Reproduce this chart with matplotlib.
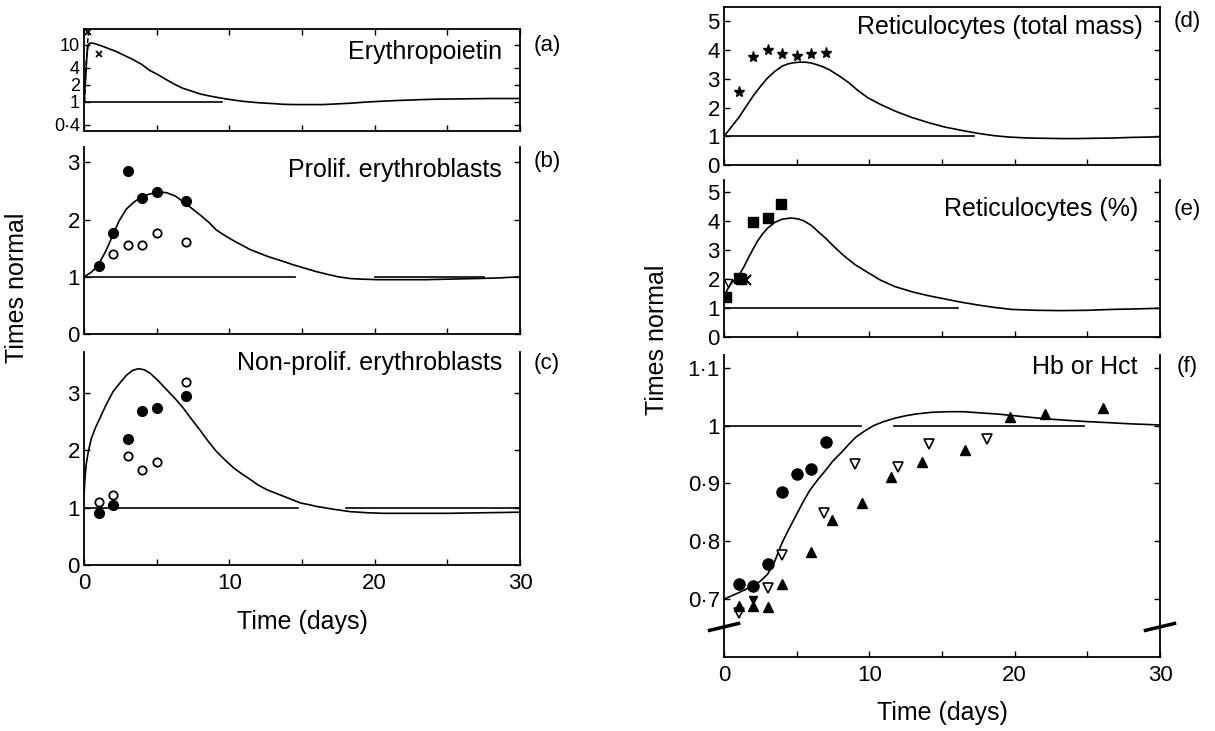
import matplotlib
matplotlib.use("Agg")
import matplotlib.pyplot as plt

plt.rcParams['font.family'] = ['Liberation Sans', 'DejaVu Sans']

# ---- data (days, times normal) ----
# (a) erythropoietin, log axis
epo_t = [0, 0.08, 0.15, 0.22, 0.3, 0.45, 0.7, 1.0, 1.5, 2.25, 2.8, 3.4, 4.0, 4.5,
         5.1, 5.7, 6.3, 6.8, 7.4, 8.0, 8.6, 9.1, 9.7, 10.3, 10.9, 11.4, 12.0, 12.6,
         13.2, 13.7, 14.6, 15.5, 16.4, 17.2, 18.3, 19.5, 20.5, 21.5, 22.4, 23.2,
         24.3, 25.5, 26.8, 28, 29, 30]
epo_v = [1.0, 2.0, 4.0, 7.5, 10.2, 10.8, 10.6, 10.0, 9.0, 7.6, 6.5, 5.5, 4.5, 3.6,
         3.0, 2.43, 2.0, 1.74, 1.55, 1.38, 1.28, 1.21, 1.14, 1.08, 1.03, 1.0, 0.97,
         0.95, 0.93, 0.91, 0.9, 0.9, 0.9, 0.92, 0.95, 1.0, 1.03, 1.06, 1.08, 1.1,
         1.12, 1.13, 1.14, 1.15, 1.15, 1.15]
epo_dash_t = [0.05, 0.15, 0.3]
epo_dash_v = [1.0, 5.0, 16.0]
epo_x_t = [0.3, 1.0]
epo_x_v = [16.5, 6.9]

# (b) proliferating erythroblasts
prolif_t = [0, 0.5, 0.94, 1.5, 1.97, 2.4, 2.9, 3.4, 3.85, 4.4, 4.9, 5.3, 5.7, 6.3,
            6.84, 7.4, 8.0, 8.6, 9.1, 9.7, 10.3, 10.9, 11.4, 12.0, 12.6, 13.2, 13.7,
            14.4, 15.2, 16.0, 16.8, 17.5, 18.3, 19.0, 20.3, 21.7, 23.5, 25.2, 27,
            28.5, 30]
prolif_v = [1.0, 1.08, 1.19, 1.45, 1.72, 1.97, 2.18, 2.3, 2.38, 2.44, 2.47, 2.48,
            2.47, 2.41, 2.31, 2.2, 2.08, 1.95, 1.82, 1.72, 1.63, 1.55, 1.48, 1.42,
            1.36, 1.31, 1.27, 1.21, 1.15, 1.09, 1.04, 1.0, 0.97, 0.96, 0.95, 0.95,
            0.95, 0.96, 0.97, 0.98, 1.0]
prolif_fill_t = [1, 2, 3, 4, 5, 7]
prolif_fill_v = [1.19, 1.76, 2.85, 2.38, 2.49, 2.32]
prolif_open_t = [2, 3, 4, 5, 7]
prolif_open_v = [1.40, 1.56, 1.55, 1.76, 1.61]

# (c) non-proliferating erythroblasts
nonprolif_t = [0, 0.05, 0.15, 0.3, 0.5, 0.8, 1.1, 1.5, 2.0, 2.5, 2.94, 3.35, 3.74,
               4.15, 4.55, 5.1, 5.7, 6.3, 6.84, 7.4, 7.98, 8.5, 9.1, 9.7, 10.3, 10.9,
               11.5, 12.0, 12.6, 13.2, 13.7, 14.3, 14.9, 15.5, 16.0, 17.2, 18.3, 19.5,
               20.6, 22.5, 25, 27.5, 30]
nonprolif_v = [1.2, 1.45, 1.75, 1.98, 2.2, 2.4, 2.56, 2.78, 3.02, 3.18, 3.31, 3.39,
               3.42, 3.4, 3.34, 3.21, 3.05, 2.89, 2.73, 2.54, 2.35, 2.17, 1.98, 1.83,
               1.69, 1.58, 1.48, 1.39, 1.31, 1.25, 1.2, 1.14, 1.08, 1.05, 1.02, 0.97,
               0.93, 0.91, 0.9, 0.9, 0.9, 0.91, 0.92]
nonprolif_fill_t = [1, 2, 3, 4, 5, 7]
nonprolif_fill_v = [0.90, 1.05, 2.2, 2.69, 2.73, 2.95]
nonprolif_open_t = [1, 2, 3, 4, 5, 7]
nonprolif_open_v = [1.09, 1.22, 1.89, 1.66, 1.80, 3.18]

# (d) reticulocytes, total mass
retmass_t = [0, 0.5, 1, 1.5, 2, 2.5, 3, 3.5, 4, 4.4, 4.8, 5.2, 5.6, 6.0, 6.4, 6.8,
             7.2, 7.9, 8.6, 9.2, 9.9, 10.8, 11.8, 12.9, 14.1, 15.2, 16.4, 17.5, 18.6,
             19.7, 20.9, 22, 23.2, 24.3, 25.5, 26.8, 28, 29, 30]
retmass_v = [1.0, 1.32, 1.64, 2.02, 2.40, 2.73, 3.03, 3.26, 3.44, 3.52, 3.56, 3.58,
             3.58, 3.55, 3.49, 3.42, 3.33, 3.11, 2.86, 2.6, 2.34, 2.1, 1.87, 1.66,
             1.47, 1.32, 1.2, 1.1, 1.02, 0.97, 0.94, 0.93, 0.92, 0.92, 0.93, 0.94,
             0.96, 0.97, 0.98]
retmass_pts_t = [1, 2, 3, 4, 5, 6, 7]
retmass_pts_v = [2.55, 3.76, 4.02, 3.88, 3.81, 3.87, 3.91]

# (e) reticulocytes, %
retpct_t = [0, 0.25, 0.5, 0.75, 1.0, 1.35, 1.7, 2.0, 2.3, 2.65, 3.0, 3.5, 4.0, 4.6,
            5.1, 5.5, 6.0, 6.5, 7.0, 7.5, 8.2, 9.0, 9.9, 10.8, 11.8, 13.0, 14.0, 15.0,
            16.2, 17.5, 18.6, 19.8, 21.5, 23.2, 25, 26.7, 28.5, 30]
retpct_v = [1.4, 1.65, 1.85, 1.98, 2.1, 2.4, 2.75, 3.03, 3.3, 3.55, 3.75, 3.95, 4.06,
            4.1, 4.07, 4.0, 3.85, 3.62, 3.4, 3.15, 2.82, 2.5, 2.22, 1.95, 1.73, 1.55,
            1.43, 1.33, 1.21, 1.1, 1.02, 0.95, 0.92, 0.91, 0.92, 0.95, 0.97, 0.99]
retpct_sq_t = [0.15, 1.0, 1.2, 2.0, 3.0, 3.9]
retpct_sq_v = [1.37, 2.03, 2.0, 3.96, 4.09, 4.59]
retpct_x_t = [1.5]
retpct_x_v = [1.98]
retpct_tri_t = [0.3]
retpct_tri_v = [1.85]

# (f) Hb or Hct
hb_t = [0, 1, 2, 2.5, 3, 3.5, 3.95, 4.4, 4.9, 5.4, 5.9, 6.5, 7.0, 7.5, 8.1, 8.6,
        9.07, 9.7, 10.3, 11, 11.8, 12.5, 13.2, 14.3, 15.4, 16.5, 17.6, 18.8, 20,
        21.2, 22.5, 23.7, 24.9, 26.5, 28, 30]
hb_v = [0.70, 0.711, 0.723, 0.731, 0.743, 0.766, 0.795, 0.818, 0.842, 0.866, 0.888,
        0.908, 0.923, 0.939, 0.954, 0.968, 0.98, 0.991, 1.0, 1.007, 1.013, 1.017,
        1.02, 1.023, 1.024, 1.024, 1.022, 1.02, 1.017, 1.014, 1.011, 1.009, 1.007,
        1.005, 1.003, 1.001]
hb_circ_t = [1, 2, 3, 4, 5, 6, 7]
hb_circ_v = [0.727, 0.723, 0.761, 0.885, 0.916, 0.925, 0.971]
hb_down_t = [1, 3, 4, 6.9, 9.0, 12.0, 14.1, 18.1]
hb_down_v = [0.676, 0.72, 0.777, 0.849, 0.934, 0.929, 0.969, 0.976]
hb_downfill_t = [2]
hb_downfill_v = [0.699]
hb_up_t = [1, 2, 3, 4, 6.0, 7.4, 9.5, 11.5, 13.6, 16.6, 19.7, 22.1, 26.1]
hb_up_v = [0.689, 0.689, 0.686, 0.727, 0.781, 0.837, 0.866, 0.911, 0.937, 0.957, 1.014,
           1.02, 1.03]

# reference "normal" segments (start, end) per panel
norm_a = [(0, 9.5)]
norm_b = [(0, 14.5), (20, 27.5)]
norm_c = [(0, 14.7), (18, 30)]
norm_d = [(0, 17.2)]
norm_e = [(0, 16.1)]
norm_f = [(0, 9.4), (11.7, 24.8)]

W, H = 1215, 731
FS = 16      # tick labels
FS_T = 18    # panel names, axis labels
fig = plt.figure(figsize=(W / 100, H / 100), dpi=100)


def px_axes(x0, y0, x1, y1):
    return fig.add_axes([x0 / W, 1 - y1 / H, (x1 - x0) / W, (y1 - y0) / H])


def style(ax, top=False):
    ax.spines['top'].set_visible(top)
    for s in ax.spines.values():
        s.set_linewidth(1.3)
    ax.set_xlim(0, 30)
    ax.set_xticks([0, 10, 20, 30])
    ax.set_xticks([5, 15, 25], minor=True)
    ax.tick_params(which='both', direction='in', length=4, width=1,
                   left=True, right=True, top=top, labelsize=FS, pad=3)
    ax.tick_params(axis='y', which='minor', left=False, right=False)


def norm_lines(ax, segs):
    for a, b in segs:
        ax.plot([a, b], [1, 1], color='black', lw=1.2)


def ftext(x, y, s, ha='left', size=FS_T, **kw):
    fig.text(x / W, 1 - y / H, s, ha=ha, va='center', fontsize=size, **kw)


# ---- left column ----
ax_a = px_axes(84, 29, 520, 131)
style(ax_a, top=True)
ax_a.set_yscale('log')
ax_a.set_ylim(0.31, 19)
ax_a.set_yticks([0.4, 1, 2, 4, 10])
ax_a.set_yticklabels(['0·4', '1', '2', '4', '10'])
ax_a.yaxis.set_minor_locator(matplotlib.ticker.NullLocator())
ax_a.tick_params(axis='y', labelsize=13)
ax_a.plot(epo_t, epo_v, color='black', lw=1.2)
ax_a.plot(epo_dash_t, epo_dash_v, color='black', lw=1.0, ls='--')
ax_a.plot(epo_x_t, epo_x_v, 'x', color='black', ms=5, mew=1.3)
norm_lines(ax_a, norm_a)
ax_a.set_xticklabels([])

ax_b = px_axes(84, 147, 520, 334)
style(ax_b)
ax_b.set_ylim(0, 3.27)
ax_b.set_yticks([0, 1, 2, 3])
ax_b.plot(prolif_t, prolif_v, color='black', lw=1.2)
ax_b.plot(prolif_fill_t, prolif_fill_v, 'o', color='black', ms=7)
ax_b.plot(prolif_open_t, prolif_open_v, 'o', mfc='white', mec='black', mew=1.3, ms=6)
norm_lines(ax_b, norm_b)
ax_b.set_xticklabels([])

ax_c = px_axes(84, 352, 520, 565)
style(ax_c)
ax_c.set_ylim(0, 3.71)
ax_c.set_yticks([0, 1, 2, 3])
ax_c.plot(nonprolif_t, nonprolif_v, color='black', lw=1.2)
ax_c.plot(nonprolif_fill_t, nonprolif_fill_v, 'o', color='black', ms=7)
ax_c.plot(nonprolif_open_t, nonprolif_open_v, 'o', mfc='white', mec='black', mew=1.3, ms=6)
norm_lines(ax_c, norm_c)
ax_c.tick_params(axis='x', pad=6)

# ---- right column ----
ax_d = px_axes(724, 7, 1160, 165)
style(ax_d, top=True)
ax_d.tick_params(axis='x', which='both', top=False)
ax_d.set_ylim(0, 5.5)
ax_d.set_yticks([0, 1, 2, 3, 4, 5])
ax_d.plot(retmass_t, retmass_v, color='black', lw=1.2)
ax_d.plot(retmass_pts_t, retmass_pts_v, '*', color='black', ms=8)
norm_lines(ax_d, norm_d)
ax_d.set_xticklabels([])

ax_e = px_axes(724, 180, 1160, 337)
style(ax_e)
ax_e.set_ylim(0, 5.41)
ax_e.set_yticks([0, 1, 2, 3, 4, 5])
ax_e.plot(retpct_t, retpct_v, color='black', lw=1.2)
ax_e.plot(retpct_sq_t, retpct_sq_v, 's', color='black', ms=7)
ax_e.plot(retpct_x_t, retpct_x_v, 'x', color='black', ms=7, mew=1.5)
ax_e.plot(retpct_tri_t, retpct_tri_v, 'v', mfc='white', mec='black', ms=6)
norm_lines(ax_e, norm_e)
ax_e.set_xticklabels([])

ax_f = px_axes(724, 355, 1160, 657)
style(ax_f)
ax_f.set_ylim(0.6, 1.122)
ax_f.set_yticks([0.7, 0.8, 0.9, 1.0, 1.1])
ax_f.set_yticklabels(['0·7', '0·8', '0·9', '1', '1·1'])
ax_f.plot(hb_t, hb_v, color='black', lw=1.2)
ax_f.plot(hb_circ_t, hb_circ_v, 'o', color='black', ms=8)
ax_f.plot(hb_down_t, hb_down_v, 'v', mfc='white', mec='black', mew=1.2, ms=7)
ax_f.plot(hb_downfill_t, hb_downfill_v, 'v', color='black', ms=6)
ax_f.plot(hb_up_t, hb_up_v, '^', color='black', ms=7)
norm_lines(ax_f, norm_f)
ax_f.tick_params(axis='x', pad=6)

# axis-break marks on (f)
break_y = 0.652
for xb in (0, 30):
    ax_f.plot([xb - 1.0, xb + 1.0], [break_y - 0.006, break_y + 0.006],
              color='black', lw=2.5, clip_on=False)

# ---- panel texts ----
ftext(502, 52, 'Erythropoietin', ha='right')
ftext(502, 170, 'Prolif. erythroblasts', ha='right')
ftext(502, 363, 'Non-prolif. erythroblasts', ha='right')
ftext(1143, 27, 'Reticulocytes (total mass)', ha='right')
ftext(1138, 209, 'Reticulocytes (%)', ha='right')
ftext(1138, 367, 'Hb or Hct', ha='right')

for lab, x, y in [('(a)', 547, 45), ('(b)', 547, 162), ('(c)', 547, 363),
                  ('(d)', 1187, 22), ('(e)', 1187, 209), ('(f)', 1187, 367)]:
    ftext(x, y, lab, ha='center', size=16)

ftext(302, 622, 'Time (days)', ha='center')
ftext(942, 713, 'Time (days)', ha='center')
fig.text(17 / W, 1 - 288 / H, 'Times normal', rotation=90, ha='center', va='center',
         fontsize=FS_T)
fig.text(657 / W, 1 - 340 / H, 'Times normal', rotation=90, ha='center', va='center',
         fontsize=FS_T)

fig.savefig('out.png', dpi=100)
